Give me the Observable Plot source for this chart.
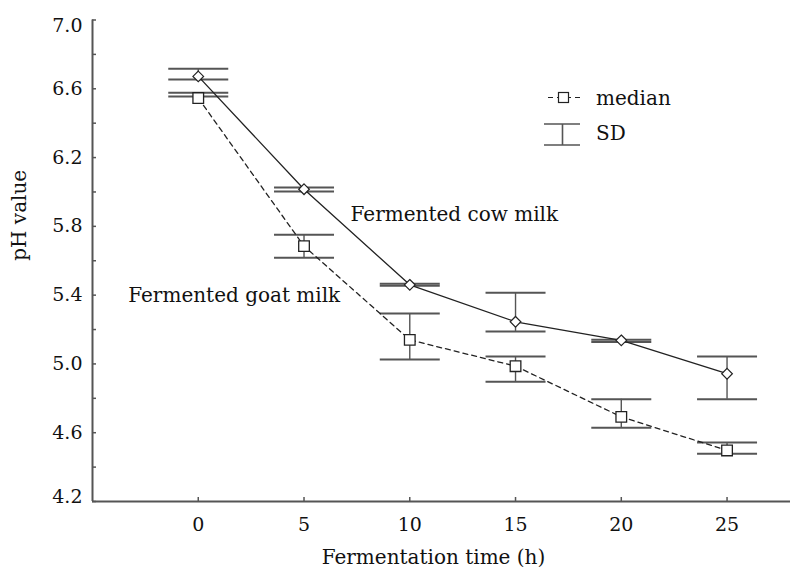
<!DOCTYPE html>
<html><head><meta charset="utf-8">
<script src="https://cdn.jsdelivr.net/npm/d3@7"></script>
<script src="https://cdn.jsdelivr.net/npm/@observablehq/plot@0.6"></script>
<style>body{margin:0;background:#fff}</style>
</head><body><div id="chart"></div>
<script>
// ---- data ----
const times = [0, 5, 10, 15, 20, 25];
const seriesNames = ["Fermented cow milk", "Fermented goat milk"];
const cowMedian = [6.672, 6.016, 5.460, 5.245, 5.137, 4.943];
const cowHigh   = [6.716, 6.026, 5.466, 5.414, 5.140, 5.043];
const cowLow    = [6.654, 6.003, 5.454, 5.189, 5.128, 4.795];
const goatMedian = [6.546, 5.685, 5.140, 4.987, 4.692, 4.497];
const goatHigh   = [6.577, 5.751, 5.293, 5.043, 4.795, 4.543];
const goatLow    = [6.555, 5.617, 5.026, 4.896, 4.629, 4.477];
const labelX = [7.2, -3.31];
const labelY = [5.83, 5.359];
const xTicks = [0, 5, 10, 15, 20, 25];
const yTicks = [4.2, 4.4, 4.6, 4.8, 5.0, 5.2, 5.4, 5.6, 5.8, 6.0, 6.2, 6.4, 6.6, 6.8, 7.0];
const yTickLabels = [4.2, 4.6, 5.0, 5.4, 5.8, 6.2, 6.6, 7.0];
const xTitle = "Fermentation time (h)";
const yTitle = "pH value";
const legendLabels = ["median", "SD"];

// ---- build tables ----
const medians = [cowMedian, goatMedian], highs = [cowHigh, goatHigh], lows = [cowLow, goatLow];
const rows = [];
seriesNames.forEach((s, i) => times.forEach((t, j) => rows.push({series: s, t, median: medians[i][j], hi: highs[i][j], lo: lows[i][j]})));
const cowRows = rows.filter(d => d.series === seriesNames[0]);
const goatRows = rows.filter(d => d.series === seriesNames[1]);
const labels = seriesNames.map((s, i) => ({text: s, x: labelX[i], y: labelY[i]}));

const AX = "#555", LN = "#222";
const FONT = "'DejaVu Serif', serif";
const capSymbol = {draw(c) { c.moveTo(-30, 0); c.lineTo(30, 0); }};
const fmt = d3.format(".1f");
const yMid = yTickLabels.filter(v => v > yTicks[0] && v < yTicks[yTicks.length - 1]);
const yTop = yTickLabels.filter(v => v === yTicks[yTicks.length - 1]);
const yBot = yTickLabels.filter(v => v === yTicks[0]);

const plot = Plot.plot({
  width: 790, height: 567,
  marginLeft: 92, marginRight: 0, marginTop: 19.5, marginBottom: 66,
  x: {domain: [-5, 28]},
  y: {domain: [yTicks[0], yTicks[yTicks.length - 1]]},
  style: {fontFamily: FONT, fontSize: "19px", color: "#111", background: "#fff", overflow: "visible"},
  marks: [
    Plot.ruleX([-5], {stroke: AX, strokeWidth: 2}),
    Plot.ruleY([yTicks[0]], {stroke: AX, strokeWidth: 2}),
    Plot.axisY(yTicks, {tickSize: -4, tickFormat: () => "", label: null, stroke: AX, strokeWidth: 1.5}),
    Plot.axisY(yMid, {tickSize: 0, tickPadding: 10, tickFormat: fmt, label: null, fill: "#111"}),
    Plot.axisY(yTop, {tickSize: 0, tickPadding: 10, tickFormat: fmt, label: null, fill: "#111", dy: 6}),
    Plot.axisY(yBot, {tickSize: 0, tickPadding: 10, tickFormat: fmt, label: null, fill: "#111", dy: -5}),
    Plot.axisX(xTicks, {tickSize: -4, tickFormat: () => "", label: null, stroke: AX, strokeWidth: 1.5}),
    Plot.axisX(xTicks, {tickSize: 0, tickPadding: 16, label: null, fill: "#111"}),
    // error bars
    Plot.ruleX(rows, {x: "t", y1: "lo", y2: "hi", stroke: AX, strokeWidth: 1.4}),
    Plot.dot(rows, {x: "t", y: "hi", symbol: capSymbol, stroke: AX, strokeWidth: 2, fill: "none"}),
    Plot.dot(rows, {x: "t", y: "lo", symbol: capSymbol, stroke: AX, strokeWidth: 2, fill: "none"}),
    // series lines
    Plot.line(cowRows, {x: "t", y: "median", stroke: LN, strokeWidth: 1.3}),
    Plot.line(goatRows, {x: "t", y: "median", stroke: LN, strokeWidth: 1.3, strokeDasharray: "5,4"}),
    Plot.dot(cowRows, {x: "t", y: "median", symbol: "diamond2", r: 4.8, fill: "white", stroke: LN, strokeWidth: 1.2}),
    Plot.dot(goatRows, {x: "t", y: "median", symbol: "square", r: 6, fill: "white", stroke: LN, strokeWidth: 1.3}),
    // annotations
    Plot.text(labels, {x: "x", y: "y", text: "text", textAnchor: "start", lineAnchor: "bottom", fontSize: 20, fill: "#111"}),
    Plot.text([xTitle], {frameAnchor: "bottom", dy: 62, dx: -8, lineAnchor: "bottom", fontSize: 20, fill: "#111"}),
    Plot.text([yTitle], {frameAnchor: "left", rotate: -90, dx: -67, lineAnchor: "bottom", fontSize: 20, fill: "#111"})
  ]
});
document.getElementById("chart").appendChild(plot);

// ---- legend ----
const svg = d3.select(plot);
const lg = svg.append("g").attr("font-family", FONT).attr("font-size", 20).attr("fill", "#111").attr("text-anchor", "start");
lg.append("line").attr("x1", 548).attr("x2", 583).attr("y1", 97.5).attr("y2", 97.5)
  .attr("stroke", LN).attr("stroke-width", 1.2).attr("stroke-dasharray", "5,4");
lg.append("rect").attr("x", 558.5).attr("y", 92.5).attr("width", 10).attr("height", 10)
  .attr("fill", "white").attr("stroke", LN).attr("stroke-width", 1.2);
lg.append("text").attr("x", 596).attr("y", 105).attr("text-anchor", "start").text(legendLabels[0]);
lg.append("path").attr("d", "M544,124H580M544,145H580M562.5,124V145")
  .attr("fill", "none").attr("stroke", AX).attr("stroke-width", 1.6);
lg.append("text").attr("x", 596).attr("y", 140).attr("text-anchor", "start").text(legendLabels[1]);
</script>
</body></html>
